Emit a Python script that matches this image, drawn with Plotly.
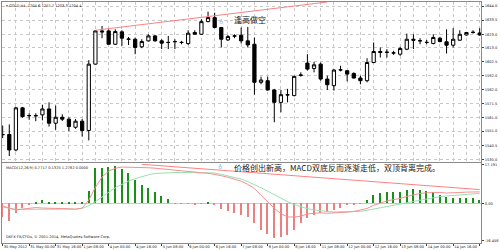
import plotly.graph_objects as go

# ---------------- data ----------------
open_ = [1548.3, 1548.5, 1537.0, 1568.3, 1562.4, 1562.6, 1563.1, 1567.5, 1556.9, 1561.3,
         1559.9, 1553.9, 1558.4, 1551.5, 1600.8, 1625.5, 1625.5, 1615.6, 1624.8, 1619.5,
         1619.3, 1613.7, 1618.1, 1621.8, 1618.1, 1617.0, 1617.4, 1617.0, 1616.1, 1624.3,
         1623.0, 1632.4, 1635.4, 1628.0, 1618.8, 1621.6, 1622.3, 1618.1, 1615.6, 1587.3,
         1588.5, 1581.6, 1572.4, 1578.1, 1577.4, 1592.4, 1601.6, 1597.6, 1600.8, 1589.7,
         1584.8, 1596.4, 1595.9, 1593.9, 1590.5, 1588.5, 1602.0, 1610.2, 1609.5, 1609.0,
         1608.2, 1611.9, 1619.3, 1618.3, 1617.1, 1616.1, 1620.1, 1617.4, 1614.9, 1618.6,
         1622.5, 1624.3, 1624.0]
high = [1555.2, 1556.0, 1569.0, 1569.0, 1564.3, 1564.3, 1570.5, 1572.4, 1570.0, 1563.5,
        1561.3, 1560.0, 1560.0, 1603.8, 1626.0, 1629.2, 1626.7, 1626.7, 1626.0, 1621.0,
        1620.6, 1619.3, 1623.0, 1622.5, 1619.3, 1621.8, 1619.3, 1618.1, 1626.0, 1626.0,
        1634.2, 1639.8, 1639.0, 1628.5, 1622.5, 1623.0, 1628.0, 1628.5, 1620.6, 1591.5,
        1591.5, 1582.4, 1581.6, 1582.4, 1592.2, 1594.7, 1608.2, 1602.5, 1602.0, 1592.2,
        1597.1, 1599.6, 1596.4, 1594.7, 1592.2, 1605.2, 1616.9, 1613.2, 1611.9, 1610.7,
        1613.7, 1623.5, 1623.0, 1620.1, 1618.8, 1623.0, 1621.1, 1626.7, 1627.5, 1626.0,
        1624.8, 1626.0, 1627.5]
low = [1545.8, 1532.5, 1536.0, 1561.0, 1559.4, 1558.4, 1559.0, 1554.4, 1552.0, 1558.5,
       1551.0, 1552.7, 1547.0, 1544.1, 1600.5, 1620.1, 1615.1, 1615.1, 1614.4, 1615.0,
       1608.2, 1612.7, 1617.6, 1617.6, 1612.0, 1612.0, 1612.0, 1615.6, 1615.1, 1623.0,
       1622.5, 1631.9, 1627.5, 1613.2, 1618.1, 1620.1, 1616.1, 1613.2, 1578.1, 1585.8,
       1581.1, 1557.6, 1565.0, 1572.4, 1576.9, 1591.5, 1596.1, 1594.7, 1588.5, 1581.6,
       1581.1, 1595.4, 1588.0, 1590.0, 1585.8, 1587.3, 1601.5, 1605.7, 1605.7, 1607.7,
       1607.0, 1611.2, 1612.0, 1615.6, 1615.6, 1615.6, 1617.0, 1608.7, 1613.2, 1618.1,
       1622.0, 1623.5, 1622.0]
close = [1548.5, 1537.0, 1568.3, 1561.8, 1562.6, 1562.4, 1567.5, 1556.9, 1561.3, 1559.9,
         1554.4, 1558.4, 1551.5, 1600.8, 1625.5, 1624.8, 1615.6, 1625.0, 1620.1, 1619.3,
         1613.2, 1617.6, 1621.8, 1618.1, 1616.4, 1616.9, 1617.6, 1616.9, 1623.8, 1623.0,
         1632.4, 1635.4, 1628.0, 1619.3, 1621.3, 1621.8, 1618.1, 1615.1, 1587.3, 1589.0,
         1581.6, 1572.4, 1578.1, 1577.9, 1591.7, 1592.7, 1597.1, 1600.3, 1589.7, 1585.5,
         1596.4, 1596.6, 1593.4, 1590.5, 1588.5, 1602.0, 1610.2, 1609.5, 1609.7, 1609.2,
         1612.4, 1619.3, 1618.6, 1618.1, 1616.9, 1620.6, 1617.6, 1614.9, 1619.3, 1623.0,
         1624.3, 1624.5, 1622.5]

macd_hist = [-6.1, -7.7, -4.4, -2.2, -0.7, 0.4, 1.3, 0.7, 0.7, 0.7, 0.3, 0.3, 0.15,
             5.4, 15.3, 15.6, 16.0, 16.3, 14.9, 13.4, 10.2, 8.0, 6.6, 5.1, 3.2, 1.75,
             -0.1, -0.3, -0.3, -0.4, -0.1, 0.4, -0.4,
             -2.5, -3.6, -4.4, -5.1, -6.1, -8.8, -11.7, -13.4, -15.3, -14.9, -14.0, -11.7,
             -8.8, -6.6, -5.1, -4.4, -4.1, -2.9, -2.2, -1.0, -0.4, -0.3,
             1.5, 3.6, 4.4, 4.8, 5.0, 5.0, 5.8, 6.1, 5.8, 5.4, 4.7, 3.6, 2.5, 2.2, 2.2,
             2.2, 2.2, 1.5]
macd_dif = [-1.0, -2.1, -2.8, -2.4, -2.0, -1.8, -2.0, -2.2, -2.2, -2.2, -2.2, -2.5, -2.0,
            1.5, 7.1, 11.6, 14.2, 15.5, 16.0, 16.0, 16.0, 15.9, 15.7, 15.5, 15.2, 14.9,
            14.5, 14.1, 13.8, 13.7, 13.5, 13.3, 12.9, 12.2, 11.5, 10.8, 9.8, 8.4, 6.6,
            3.6, 0.7, -2.1, -4.5, -5.9, -6.0, -5.6, -4.6, -4.2, -4.1, -4.3, -4.2, -3.9,
            -3.8, -3.5, -3.0, -2.2, -0.8, 0.3, 1.1, 1.7, 2.2, 3.1, 3.9, 4.4, 4.7, 4.8,
            4.8, 4.6, 4.6, 4.8, 5.0, 5.2, 5.1]
macd_dea = [-1.6, -2.2, -2.6, -2.6, -2.6, -2.6, -2.6, -2.5, -2.5, -2.5, -2.5, -2.5, -2.2,
            -1.0, 0.8, 2.7, 4.9, 6.9, 8.4, 9.8, 10.9, 11.9, 12.6, 13.2, 13.4, 13.6,
            13.6, 13.6, 13.5, 13.5, 13.4, 13.5, 13.4, 12.8, 12.2, 11.5, 10.7, 9.6, 8.4,
            6.9, 5.4, 3.8, 2.3, 0.8, -0.5, -1.5, -2.3, -2.8, -3.3, -3.5, -3.7, -3.7,
            -3.8, -3.7, -3.5, -3.0, -2.5, -1.9, -1.3, -0.8, -0.3, 0.3, 0.9, 1.5, 2.0,
            2.5, 3.0, 3.3, 3.6, 3.8, 4.0, 4.2, 4.4]

tick_idx = [0, 4, 8, 12, 16, 20, 24, 28, 32, 36, 40, 44, 48, 52, 56, 60, 64, 68, 72]
tick_text = ["30 May 2012", "31 May 00:00", "31 May 16:00", "1 Jun 08:00", "4 Jun 00:00",
             "4 Jun 16:00", "5 Jun 08:00", "6 Jun 00:00", "6 Jun 16:00", "7 Jun 08:00",
             "8 Jun 00:00", "8 Jun 16:00", "11 Jun 08:00", "12 Jun 00:00", "12 Jun 16:00",
             "13 Jun 08:00", "14 Jun 00:00", "14 Jun 16:00", "15 Jun 08:00"]
price_ticks = [1530.0, 1540.5, 1551.0, 1561.0, 1571.5, 1582.0, 1592.0, 1602.5, 1613.0,
               1623.0, 1633.5, 1644.0]
macd_ticks = [-16.458, 0.0, 17.191]

# trend lines (bar index, value)
price_trend_x = [14, 49]
price_trend_y = [1626.0, 1647.0]
macd_trend_x = [21, 72]
macd_trend_y = [17.2, 6.1]

n = len(close)
idx = list(range(n))
grid_idx = list(range(0, n, 2))

FONT = "DejaVu Sans"
GRID = "#c8c8c8"
FRAME = "#8a8a8a"

fig = go.Figure()
fig.add_trace(go.Candlestick(
    x=idx, open=open_, high=high, low=low, close=close,
    increasing=dict(line=dict(color="black", width=1), fillcolor="white"),
    decreasing=dict(line=dict(color="black", width=1), fillcolor="black"),
    whiskerwidth=0, xaxis="x", yaxis="y", showlegend=False))
fig.add_trace(go.Scatter(x=price_trend_x, y=price_trend_y, mode="lines",
                         line=dict(color="#ff8080", width=1), xaxis="x", yaxis="y",
                         showlegend=False, cliponaxis=True))

bar_colors = ["#1a8f1a" if v >= 0 else "#ec8080" for v in macd_hist]
fig.add_trace(go.Bar(x=idx, y=macd_hist, marker=dict(color=bar_colors, line=dict(width=0)),
                     width=0.22, xaxis="x2", yaxis="y2", showlegend=False))
fig.add_trace(go.Scatter(x=idx, y=macd_dea, mode="lines", line=dict(color="#98e0b0", width=1),
                         xaxis="x2", yaxis="y2", showlegend=False))
fig.add_trace(go.Scatter(x=idx, y=macd_dif, mode="lines", line=dict(color="#f39090", width=1),
                         xaxis="x2", yaxis="y2", showlegend=False))
fig.add_trace(go.Scatter(x=macd_trend_x, y=macd_trend_y, mode="lines",
                         line=dict(color="#ff8080", width=1), xaxis="x2", yaxis="y2",
                         showlegend=False))

xr = [-0.1, 72.2]
main_dom = [0.3347, 1.0]
macd_dom = [0.0, 0.3306]

fig.update_layout(
    width=500, height=250,
    margin=dict(l=1, r=17, t=1, b=7),
    paper_bgcolor="white", plot_bgcolor="white",
    font=dict(family=FONT, size=4, color="#202020"),
    showlegend=False,
    xaxis=dict(domain=[0, 1], range=xr, anchor="y", showticklabels=False,
               tickvals=grid_idx, showgrid=True, gridcolor=GRID, griddash="dot",
               gridwidth=1, zeroline=False, showline=True, mirror=True,
               linecolor=FRAME, linewidth=1, rangeslider=dict(visible=False), ticks=""),
    yaxis=dict(domain=main_dom, range=[1527.8, 1647.0], side="right", anchor="x",
               tickvals=price_ticks, ticktext=[f"{v:.1f}" for v in price_ticks],
               showgrid=True, gridcolor=GRID, griddash="dot", zeroline=False,
               showline=True, mirror=True, linecolor=FRAME, linewidth=1,
               ticks="outside", ticklen=2, tickcolor="#404040",
               tickfont=dict(size=3.6, color="#202020")),
    xaxis2=dict(domain=[0, 1], range=xr, anchor="y2", matches="x",
                tickvals=tick_idx, ticktext=tick_text, ticklabelposition="outside right",
                tickangle=0, automargin=False,
                tickfont=dict(size=3.6, color="#202020"), ticks="outside", ticklen=2,
                tickcolor="#404040", showgrid=False, zeroline=False,
                showline=True, mirror=True, linecolor=FRAME, linewidth=1),
    yaxis2=dict(domain=macd_dom, range=[-17.37, 17.64], side="right", anchor="x2",
                tickvals=macd_ticks, ticktext=["-16.458", "0.00", "17.191"],
                showgrid=False, zeroline=True, zerolinecolor=GRID, zerolinewidth=1,
                showline=True, mirror=True, linecolor=FRAME, linewidth=1,
                ticks="outside", ticklen=2, tickcolor="#404040",
                tickfont=dict(size=3.6, color="#202020")),
    bargap=0,
)

# texts
fig.add_annotation(xref="paper", yref="paper", x=0.005, y=0.998, xanchor="left", yanchor="top",
                   text="▾ GOLD,H4  1204.6 1207.7 1203.3 1204.4", showarrow=False,
                   font=dict(size=3.6, color="#202020"))
fig.add_annotation(xref="paper", yref="paper", x=0.005, y=0.326, xanchor="left", yanchor="top",
                   text="MACD(12,26,9) 0.7717 0.1325 1.2782 0.0000", showarrow=False,
                   font=dict(size=3.6, color="#202020"))
fig.add_annotation(xref="paper", yref="paper", x=0.005, y=0.008, xanchor="left", yanchor="bottom",
                   text="DKFX FX/CFDs, © 2001-2014, MetaQuotes Software Corp.", showarrow=False,
                   font=dict(size=3.6, color="#202020"))
fig.add_annotation(xref="x", yref="y", x=34.6, y=1633.8, xanchor="left", yanchor="middle",
                   text="逢高做空", showarrow=False,
                   font=dict(size=8, color="#202020", family="Noto Sans CJK SC"))
fig.add_annotation(xref="x", yref="y", x=32.9, y=1632.5, xanchor="center", yanchor="middle",
                   text="♁", showarrow=False, font=dict(size=6, color="#60b8f0"))
fig.add_annotation(xref="x2", yref="y2", x=34.6, y=15.8, xanchor="left", yanchor="middle",
                   text="价格创出新高，MACD双底反而逐渐走低，双顶背离完成。", showarrow=False,
                   font=dict(size=8, color="#202020", family="Noto Sans CJK SC"))
fig.add_annotation(xref="x2", yref="y2", x=32.8, y=16.2, xanchor="center", yanchor="middle",
                   text="♁", showarrow=False, font=dict(size=6, color="#60b8f0"))

fig.write_html("out.html")
